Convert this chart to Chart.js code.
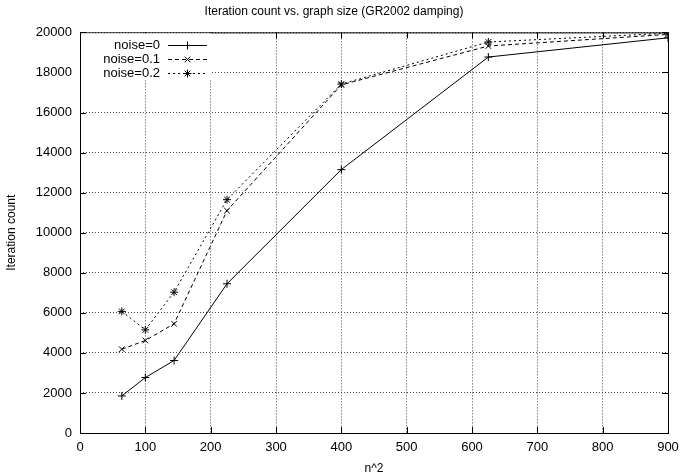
<!DOCTYPE html>
<html>
<head>
<meta charset="utf-8">
<script src="https://cdn.jsdelivr.net/npm/chart.js@4/dist/chart.umd.min.js"></script>
<style>
  html, body { margin: 0; padding: 0; background: #fff; }
  #wrap { width: 681px; height: 476px; }
</style>
</head>
<body>
<div id="wrap"><canvas id="c"></canvas></div>
<script>
const sizes = [64, 100, 144, 225, 400, 625, 900];
const noise0 = [1850, 2770, 3620, 7450, 13150, 18770, 19730];
const noise01 = [4180, 4620, 5450, 11100, 17380, 19320, 19900];
const noise02 = [6070, 5150, 7030, 11650, 17420, 19520, 19960];
const seriesLabels = ['noise=0', 'noise=0.1', 'noise=0.2'];

const FONT = 'Liberation Sans, Arial, sans-serif';

function pts(values) {
    return sizes.map((x, i) => ({ x: x, y: values[i] }));
}

const styles = [
    { pointStyle: 'cross', dash: [] },
    { pointStyle: 'crossRot', dash: [4, 3] },
    { pointStyle: 'star', dash: [2, 3] }
];

const datasets = [noise0, noise01, noise02].map((vals, i) => ({
    label: seriesLabels[i],
    data: pts(vals),
    borderColor: '#000',
    backgroundColor: '#000',
    borderWidth: 1,
    borderDash: styles[i].dash,
    pointStyle: styles[i].pointStyle,
    pointRadius: 4,
    pointBorderWidth: 1,
    fill: false,
    tension: 0
}));

// frame, inward tick marks and the key in the top-left corner
const gnuFrame = {
    id: 'gnuFrame',
    afterDatasetsDraw(chart) {
        const { ctx, chartArea: a, scales } = chart;
        ctx.save();
        ctx.strokeStyle = '#000';
        ctx.lineWidth = 1;
        ctx.setLineDash([]);
        ctx.strokeRect(a.left + 0.5, a.top + 0.5, a.right - a.left, a.bottom - a.top);
        const len = 6;
        ctx.beginPath();
        scales.x.ticks.forEach(t => {
            const px = Math.round(scales.x.getPixelForValue(t.value)) + 0.5;
            ctx.moveTo(px, a.bottom); ctx.lineTo(px, a.bottom - len);
            ctx.moveTo(px, a.top); ctx.lineTo(px, a.top + len);
        });
        scales.y.ticks.forEach(t => {
            const py = Math.round(scales.y.getPixelForValue(t.value)) + 0.5;
            ctx.moveTo(a.left, py); ctx.lineTo(a.left + len, py);
            ctx.moveTo(a.right, py); ctx.lineTo(a.right - len, py);
        });
        ctx.stroke();

        // key
        ctx.fillStyle = '#fff';
        ctx.fillRect(a.left + 1, a.top + 1, 131, 46);
        ctx.font = '13px ' + FONT;
        ctx.textAlign = 'right';
        ctx.textBaseline = 'middle';
        const textRight = 160, lineL = 168, lineR = 207;
        chart.data.datasets.forEach((ds, i) => {
            const y = 45 + i * 14;
            ctx.fillStyle = '#000';
            ctx.fillText(ds.label, textRight, y);
            ctx.setLineDash(ds.borderDash);
            ctx.beginPath();
            ctx.moveTo(lineL, y + 0.5);
            ctx.lineTo(lineR, y + 0.5);
            ctx.stroke();
            ctx.setLineDash([]);
            Chart.helpers.drawPoint(ctx, { pointStyle: ds.pointStyle, radius: 4, borderWidth: 1 }, (lineL + lineR) / 2, y + 0.5);
        });
        ctx.restore();
    }
};

const plain = v => String(v);

new Chart(document.getElementById('c'), {
    type: 'line',
    data: { datasets: datasets },
    plugins: [gnuFrame],
    options: {
        responsive: true,
        maintainAspectRatio: false,
        animation: false,
        layout: { padding: { left: 0, right: 13, top: 0, bottom: 0 } },
        scales: {
            x: {
                type: 'linear',
                min: 0,
                max: 900,
                ticks: { stepSize: 100, color: '#000', font: { family: FONT, size: 13 }, padding: 7, callback: plain },
                grid: { color: '#444', tickLength: 0, drawTicks: false },
                border: { display: false, dash: [1, 2] },
                title: { display: true, text: 'n^2', color: '#000', font: { family: FONT, size: 12 }, padding: { top: 2, bottom: 0 } },
                afterFit(scale) { scale.height = 43; scale.paddingRight = 0; }
            },
            y: {
                min: 0,
                max: 20000,
                ticks: { stepSize: 2000, color: '#000', font: { family: FONT, size: 13 }, padding: 8, callback: plain },
                grid: { color: '#444', tickLength: 0, drawTicks: false },
                border: { display: false, dash: [1, 2] },
                title: { display: true, text: 'Iteration count', color: '#000', font: { family: FONT, size: 12 } },
                afterFit(scale) { scale.width = 80; }
            }
        },
        plugins: {
            legend: { display: false },
            tooltip: { enabled: false },
            title: {
                display: true,
                text: 'Iteration count vs. graph size (GR2002 damping)',
                color: '#000',
                font: { family: FONT, size: 12, weight: 'normal' },
                padding: { top: 4, bottom: 14 }
            }
        }
    }
});
</script>
</body>
</html>
